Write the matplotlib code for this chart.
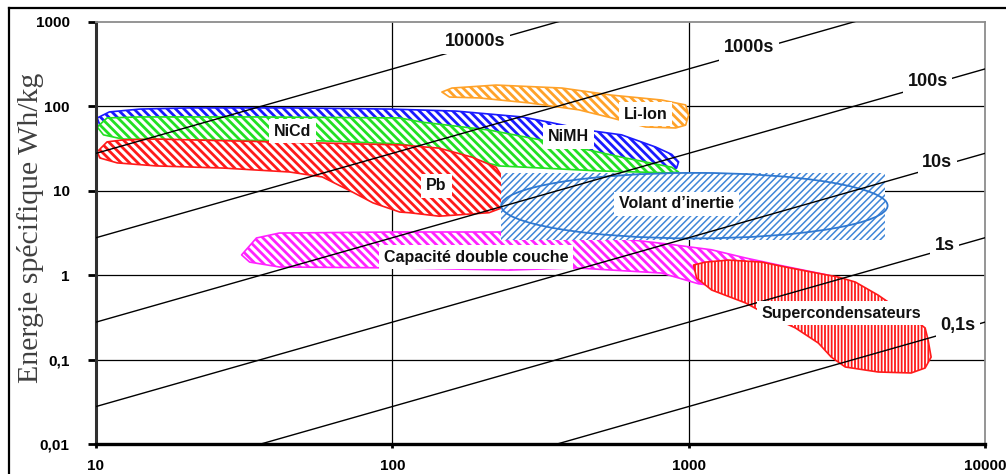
import matplotlib

matplotlib.use("Agg")
import matplotlib.pyplot as plt
from matplotlib.lines import Line2D
from matplotlib.patches import Ellipse, Polygon
from matplotlib.ticker import NullLocator

# Ragone diagram: specific power (W/kg) vs specific energy (Wh/kg)

X_TICKS = [10, 100, 1000, 10000]
X_LABELS = ["10", "100", "1000", "10000"]
Y_TICKS = [0.01, 0.1, 1, 10, 100, 1000]
Y_LABELS = ["0,01", "0,1", "1", "10", "100", "1000"]

# constant discharge-time lines (seconds), labels placed at these powers
DURATIONS = [10000, 1000, 100, 10, 1, 0.1]
DURATION_LABELS = ["10000s", "1000s", "100s", "10s", "1s", "0,1s"]
DURATION_LABEL_P = [190, 1600, 6400, 6900, 7300, 8100]

# technology areas, outlines as (W/kg, Wh/kg)
NIMH_P = [10.1, 11.1, 14.1, 20.7, 45, 98, 164, 274, 338, 460, 594, 774, 877, 925,
          911, 843, 498, 229, 98, 22.4, 10.3]
NIMH_E = [73, 86, 93, 96, 96, 93, 88, 75, 65, 52, 46, 33, 27, 22,
          18.6, 17.2, 23, 40, 60, 65, 60]

NICD_P = [10.1, 10.9, 14.1, 35, 106, 126, 212, 356, 594, 877, 925, 856, 498, 229,
          144, 106, 58, 20.7, 12.3, 10.6]
NICD_E = [57, 73, 75, 75, 73, 65, 52.5, 37, 25, 19, 16.7, 16.3, 17.2, 19.7,
          30, 36, 39, 40, 41, 46]

PB_P = [10.1, 10.9, 12.3, 16, 106, 144, 186, 224, 235, 235, 212, 144, 114, 106,
        86, 72, 58, 45, 26.8, 16, 11.8, 10.3]
PB_E = [29, 38, 40, 41, 35, 32, 25, 19, 14.6, 6.3, 5.5, 5.0, 5.5, 5.6,
        7.2, 10, 14.6, 16.7, 18.6, 19.7, 21.4, 24.5]

LIION_P = [147, 159, 224, 374, 550, 811, 977, 1000, 977, 904, 716, 550, 426, 289, 196, 156]
LIION_E = [148, 165, 179, 165, 136, 119, 104, 79, 60, 55.5, 57, 73, 91, 110, 126, 129]

DLC_P = [31, 34.8, 41.6, 103, 235, 498, 850, 1195, 1556, 2009, 2960, 3824, 4715,
         4037, 2346, 1474, 1081, 811, 416, 248, 103, 41.6, 33]
DLC_E = [1.74, 2.76, 3.16, 3.25, 3.25, 2.9, 2.34, 2.0, 1.6, 1.32, 1.0, 0.725, 0.48,
         0.51, 0.67, 0.70, 0.79, 1.06, 1.22, 1.15, 1.22, 1.25, 1.43]

SUPERCAP_P = [1039, 1141, 1363, 1762, 2121, 2595, 3200, 3650, 4362, 4715, 5504, 6281,
              6427, 6580, 6281, 5634, 4362, 3378, 3030, 2740, 2293, 2009, 1721, 1556,
              1195, 1064]
SUPERCAP_E = [1.32, 1.43, 1.51, 1.43, 1.25, 1.09, 0.95, 0.83, 0.58, 0.48, 0.34, 0.237,
              0.171, 0.107, 0.0795, 0.0694, 0.0713, 0.0817, 0.107, 0.157, 0.237, 0.294,
              0.387, 0.469, 0.668, 0.927]

FLYWHEEL_P = [233, 4600]
FLYWHEEL_E = [2.6, 16.3]

# area labels: text, power, energy
AREA_LABELS = [
    ("NiCd", 46, 51),
    ("NiMH", 394, 43.4),
    ("Pb", 141, 11.4),
    ("Li-Ion", 716, 81),
    ("Volant d\u2019inertie", 911, 7.0),
    ("Capacité double couche", 192, 1.64),
    ("Supercondensateurs", 3273, 0.356),
]

plt.rcParams["font.family"] = ["Liberation Sans", "DejaVu Sans"]
plt.rcParams["font.weight"] = "bold"
plt.rcParams["hatch.linewidth"] = 2.0


def area(ax, xs, ys, color, hatch, hatch_lw, z):
    poly = Polygon(list(zip(xs, ys)), closed=True, facecolor="white",
                   edgecolor=color, hatch=hatch, linewidth=1.2,
                   joinstyle="round", zorder=z)
    if hasattr(poly, "set_hatch_linewidth"):
        poly.set_hatch_linewidth(hatch_lw)
    ax.add_patch(poly)
    return poly


fig = plt.figure(figsize=(10.06, 4.74), dpi=100)
ax = fig.add_axes([0.0954, 0.0633, 0.8837, 0.8903])
ax.set_xscale("log")
ax.set_yscale("log")
ax.set_xlim(X_TICKS[0], X_TICKS[-1])
ax.set_ylim(Y_TICKS[0], Y_TICKS[-1])

# grid
for y in Y_TICKS[1:-1]:
    ax.axhline(y, color="black", lw=0.9, zorder=0.5)
for x in X_TICKS[1:-1]:
    ax.axvline(x, color="black", lw=0.9, zorder=0.5)

# technology areas
diag = "\\\\\\\\"
area(ax, NIMH_P, NIMH_E, "#1a1aff", diag, 2.0, 1.0)
area(ax, NICD_P, NICD_E, "#22e022", diag, 2.0, 1.1)
area(ax, PB_P, PB_E, "#ff1a1a", diag, 2.0, 1.2)
area(ax, LIION_P, LIION_E, "#ffa229", diag, 2.0, 1.3)
area(ax, DLC_P, DLC_E, "#ff22ff", diag, 2.0, 1.4)
area(ax, SUPERCAP_P, SUPERCAP_E, "#ff1a1a", "|||||", 1.3, 1.5)

# flywheel: hatched box without border plus an ellipse outline
fx0, fx1 = FLYWHEEL_P
fy0, fy1 = FLYWHEEL_E
box = Polygon([(fx0, fy0), (fx1, fy0), (fx1, fy1), (fx0, fy1)], closed=True,
              facecolor="white", edgecolor="#3f86d8", hatch="/////",
              linewidth=0, zorder=1.6)
if hasattr(box, "set_hatch_linewidth"):
    box.set_hatch_linewidth(1.1)
ax.add_patch(box)
to_axes = ax.transData + ax.transAxes.inverted()
(ax0, ay0), (ax1, ay1) = to_axes.transform([(fx0, fy0 * 1.05), (fx1 * 1.02, fy1)])
ax.add_patch(Ellipse(((ax0 + ax1) / 2, (ay0 + ay1) / 2), ax1 - ax0, ay1 - ay0,
                     transform=ax.transAxes, facecolor="none", edgecolor="#2f78d0",
                     linewidth=1.3, zorder=1.7))

# constant discharge-time lines: E = P * t / 3600
for t, label, pl in zip(DURATIONS, DURATION_LABELS, DURATION_LABEL_P):
    ax.plot(X_TICKS, [p * t / 3600 for p in X_TICKS], color="black", lw=1.0, zorder=3)
    ax.annotate(label, (pl, pl * t / 3600), xytext=(0, 3), textcoords="offset points",
                ha="center", va="center", fontsize=13, color="#111111", zorder=5,
                bbox=dict(boxstyle="square,pad=0.25", fc="white", ec="none"))

for text, p, e in AREA_LABELS:
    ax.text(p, e, text, ha="center", va="center", fontsize=11.5, color="#111111",
            zorder=4, bbox=dict(boxstyle="square,pad=0.3", fc="white", ec="none"))

# axes styling
ax.set_xticks(X_TICKS, X_LABELS)
ax.set_yticks(Y_TICKS, Y_LABELS)
ax.xaxis.set_minor_locator(NullLocator())
ax.yaxis.set_minor_locator(NullLocator())
ax.tick_params(axis="y", direction="out", length=6, width=2, pad=13, labelsize=11)
ax.tick_params(axis="x", direction="out", length=3, width=2, pad=8, labelsize=11)
ax.spines["bottom"].set_linewidth(2.4)
ax.spines["left"].set_linewidth(2.2)
ax.spines["left"].set_color("#303030")
for side in ("top", "right"):
    ax.spines[side].set_linewidth(1.3)
    ax.spines[side].set_color("#8c8c8c")

fig.text(0.030, 1 - 228 / 474, "Energie spécifique Wh/kg", rotation=90,
         ha="center", va="center", fontsize=21.5, fontweight="normal",
         family=["Liberation Serif", "DejaVu Serif"], color="#404040")

# outer frame, cut at the right and bottom edges
fig.add_artist(Line2D([0.009, 1.0], [0.983, 0.983], color="black", lw=1.6,
                      transform=fig.transFigure))
fig.add_artist(Line2D([0.009, 0.009], [0.0, 0.983], color="black", lw=1.6,
                      transform=fig.transFigure))

fig.savefig("out.png", dpi=100)
